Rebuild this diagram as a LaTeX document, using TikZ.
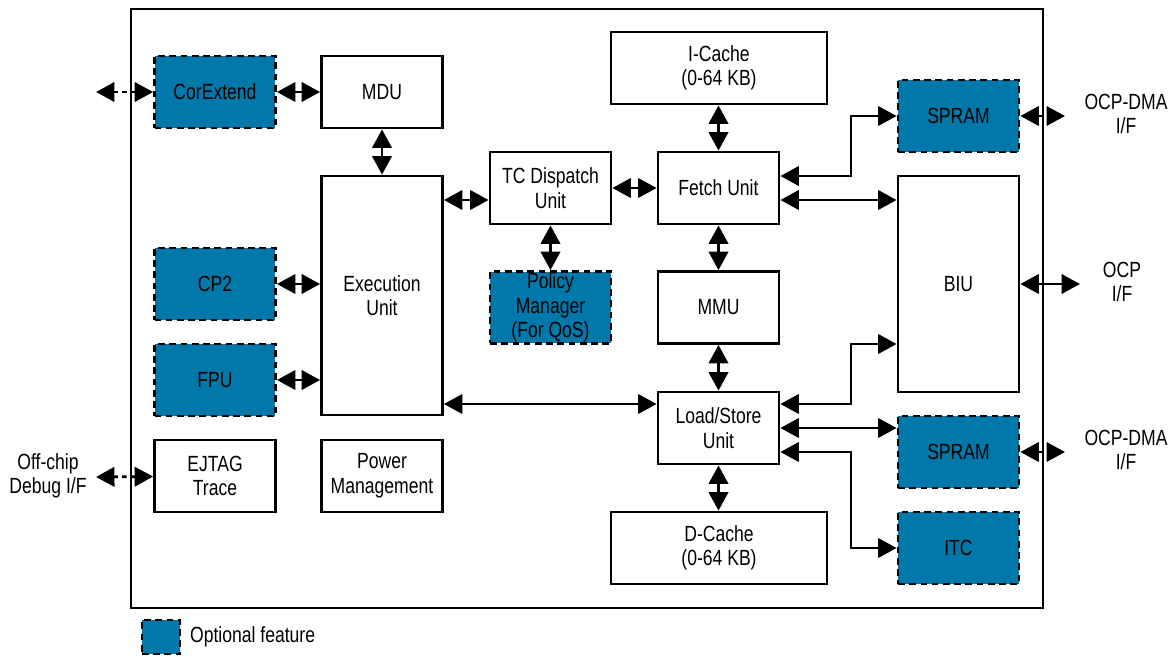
\documentclass[tikz,border=0pt]{standalone}
\usepackage{fontspec}
\setmainfont[FakeStretch=0.8]{Liberation Sans}
\usetikzlibrary{arrows.meta,positioning}
\definecolor{optblue}{RGB}{0,120,170}

\begin{document}
\begin{tikzpicture}[x=0.02cm,y=-0.02cm,font=\fontsize{12.5}{14}\selectfont,
  blk/.style={draw,line width=1.6pt,fill=white,align=center,inner sep=0pt,
              minimum width=2.42cm,minimum height=1.44cm},
  opt/.style={blk,fill=optblue,dash pattern=on 3.8pt off 2.6pt},
  link/.style={line width=1.6pt,{Triangle[length=10.5pt,width=11pt]}-{Triangle[length=10.5pt,width=11pt]}},
  ext/.style={link,dash pattern=on 2.5pt off 2.5pt},
  lbl/.style={align=center,inner sep=0pt}]
  \useasboundingbox (0,0) rectangle (1173,656);

  % chip boundary
  \draw[line width=1.6pt] (131,9) rectangle (1043,608);

  % left column
  \node[opt] (corext) at (215,92)  {CorExtend};
  \node[opt] (cp2)    at (215,284) {CP2};
  \node[opt] (fpu)    at (215,380) {FPU};
  \node[blk] (ejtag)  at (215,476) {EJTAG\\Trace};

  % core
  \node[blk] (mdu)   at (382,92)  {MDU};
  \node[blk,minimum height=4.78cm] (exec) at (382,295.5) {Execution\\Unit};
  \node[blk] (power) at (382,476) {Power\\Management};
  \node[blk] (tcd)    at (550.5,188)   {TC Dispatch\\Unit};
  \node[opt] (policy) at (550.5,307.5) {Policy\\Manager\\(For QoS)};

  % pipeline
  \node[blk,minimum width=4.32cm] (icache) at (719,68) {I-Cache\\(0-64 KB)};
  \node[blk] (fetch) at (718.5,188)   {Fetch Unit};
  \node[blk] (mmu)   at (718.5,307.5) {MMU};
  \node[blk] (lsu)   at (718.5,428)   {Load/Store\\Unit};
  \node[blk,minimum width=4.32cm] (dcache) at (719,548) {D-Cache\\(0-64 KB)};

  % right column
  \node[opt] (spramA) at (958.5,116) {SPRAM};
  \node[blk,minimum height=4.32cm] (biu) at (958.5,284) {BIU};
  \node[opt] (spramB) at (958.5,452) {SPRAM};
  \node[opt] (itc)    at (958.5,548) {ITC};

  % outside ends
  \coordinate (corx) at (96,92);
  \coordinate (dbg)  at (96,477);
  \coordinate (dmaA) at (1065,116);
  \coordinate (ocp)  at (1080,284);
  \coordinate (dmaB) at (1065,452);
  \node[lbl] (dbgtxt)  at (48,476)   {Off-chip\\Debug I/F};
  \node[lbl] (dmaAtxt) at (1126,114) {OCP-DMA\\I/F};
  \node[lbl] (ocptxt)  at (1122,282) {OCP\\I/F};
  \node[lbl] (dmaBtxt) at (1126,450) {OCP-DMA\\I/F};

  % connections
  \draw[link] (corext) -- (mdu);
  \draw[link] (mdu) -- (exec);
  \draw[link] (cp2) -- (cp2.east -| exec.west);
  \draw[link] (fpu) -- (fpu.east -| exec.west);
  \draw[link] (exec.east |- 0,200) -- (tcd.west |- 0,200);
  \draw[link] (tcd) -- (fetch);
  \draw[link] (tcd) -- (policy);
  \draw[link] (exec.east |- 0,404) -- (lsu.west |- 0,404);
  \draw[link] (icache.south -| fetch.north) -- (fetch);
  \draw[link] (fetch) -- (mmu);
  \draw[link] (mmu) -- (lsu);
  \draw[link] (lsu) -- (lsu.south |- dcache.north);
  \draw[link] (fetch.east |- 0,176) -| (851,116) -- (spramA.west);
  \draw[link] (fetch.east |- 0,200) -- (biu.west |- 0,200);
  \draw[link] (lsu.east |- 0,404) -| (851,344) -- (biu.west |- 0,344);
  \draw[link] (lsu.east) -- (lsu.east -| spramB.west);
  \draw[link] (lsu.east |- 0,452) -| (851,548) -- (itc.west);

  \draw[ext] (corext) -- (corx);
  \draw[ext] (ejtag) -- (dbg);
  \draw[ext] (spramA) -- (dmaA);
  \draw[link] (biu) -- (ocp);
  \draw[ext] (spramB) -- (dmaB);

  % legend
  \node[opt,minimum width=0.76cm,minimum height=0.68cm] (legend) at (161,637) {};
  \node[right=0.05cm of legend] (legendtxt) {Optional feature};
\end{tikzpicture}
\end{document}
